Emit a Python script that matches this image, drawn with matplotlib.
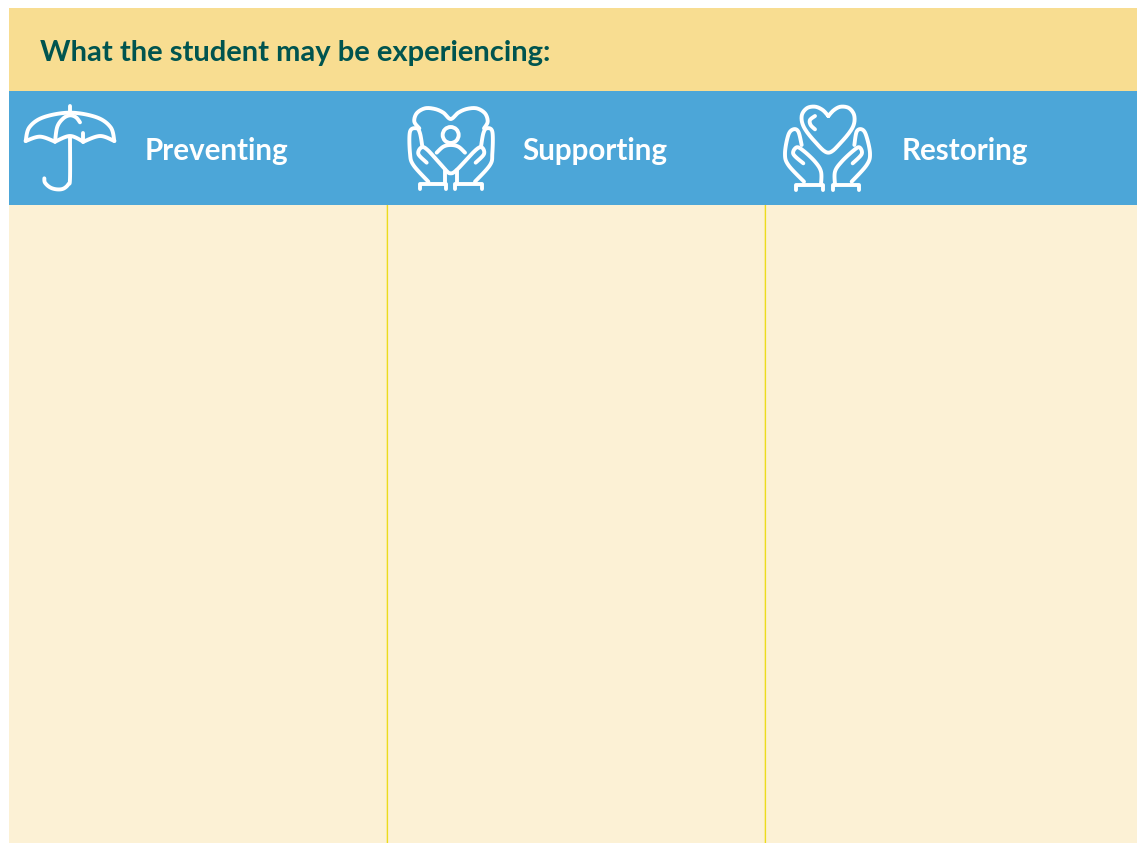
import matplotlib
matplotlib.use("Agg")
import matplotlib.pyplot as plt
from matplotlib.patches import Rectangle, Circle
from matplotlib.path import Path
from matplotlib.patches import PathPatch
import numpy as np

title = "What the student may be experiencing:"
columns = ["Preventing", "Supporting", "Restoring"]
column_label_x = [145, 523, 902]
divider_x = [387, 765]

YELLOW = "#f8dd91"
BLUE = "#4ca6d8"
CREAM = "#fcf1d5"
LINE = "#ecdc1e"
GREEN = "#00544f"

plt.rcParams["font.family"] = ["Lato", "Noto Sans", "DejaVu Sans"]


def smooth(points, n=14):
    # catmull-rom through the points so the icons don't look polygonal
    p = np.array(points, dtype=float)
    p = np.vstack([p[0], p, p[-1]])
    out = []
    for i in range(1, len(p) - 2):
        for t in np.linspace(0, 1, n, endpoint=False):
            out.append(0.5 * (2 * p[i] + (p[i + 1] - p[i - 1]) * t
                              + (2 * p[i - 1] - 5 * p[i] + 4 * p[i + 1] - p[i + 2]) * t ** 2
                              + (3 * p[i] - p[i - 1] - 3 * p[i + 1] + p[i + 2]) * t ** 3))
    out.append(p[-2])
    return np.array(out)


def draw_stroke(ax, points, ox, oy, curved=True):
    # points are in 3x crop units, ox/oy is the crop origin in pixels
    xy = smooth(points) if curved else np.array(points, dtype=float)
    xy = xy / 3 + [ox, oy]
    ax.add_patch(PathPatch(Path(xy), fill=False, ec="white", lw=2.8,
                           capstyle="round", joinstyle="round"))


umbrella = [
    ([(77, 153), (88, 112), (130, 82), (210, 68), (290, 82), (332, 112), (343, 153)], True),
    ([(77, 153), (120, 140), (165, 155)], True),
    ([(165, 155), (210, 138), (250, 155)], True),
    ([(250, 155), (300, 138), (343, 153)], True),
    ([(165, 155), (172, 110), (190, 85), (210, 76), (228, 82), (240, 97)], True),
    ([(250, 128), (250, 155)], False),
    ([(210, 48), (210, 68)], False),
    ([(210, 142), (210, 265), (205, 283), (190, 296), (170, 298), (150, 292), (135, 278), (133, 265)], True),
]

supporting = [
    ([(103, 115), (88, 95), (95, 70), (120, 55), (150, 57), (175, 68), (197, 87), (220, 68), (245, 57), (275, 55), (300, 70), (308, 95), (297, 115)], True),
    ([(155, 188), (175, 170), (197, 165), (220, 170), (240, 188)], True),
    ([(130, 275), (85, 225), (75, 190), (75, 125), (95, 115), (105, 130), (112, 170)], True),
    ([(125, 218), (100, 192), (110, 172), (130, 182), (180, 238), (197, 250), (217, 238), (270, 182), (290, 172), (297, 192), (272, 218)], True),
    ([(180, 240), (180, 282)], False),
    ([(217, 240), (217, 282)], False),
    ([(105, 297), (105, 282), (183, 282), (183, 297)], False),
    ([(210, 297), (210, 282), (290, 282), (290, 297)], False),
    ([(270, 275), (315, 225), (322, 190), (322, 125), (305, 115), (295, 130), (288, 170)], True),
]
supporting_head = (197, 135, 24)

restoring = [
    ([(205, 78), (188, 60), (165, 50), (140, 55), (125, 78), (132, 112), (165, 155), (205, 188), (245, 155), (278, 112), (283, 78), (268, 55), (243, 50), (222, 60), (205, 78)], True),
    ([(165, 118), (152, 105), (150, 90), (165, 78)], True),
    ([(132, 275), (85, 225), (75, 190), (85, 135), (100, 118), (115, 125), (125, 165)], True),
    ([(130, 220), (100, 192), (110, 172), (130, 182), (165, 215), (183, 245), (183, 285)], True),
    ([(108, 300), (108, 285), (188, 285), (188, 300)], False),
    ([(218, 300), (218, 285), (297, 285), (297, 300)], False),
    ([(278, 220), (305, 192), (298, 172), (280, 182), (245, 215), (225, 245), (225, 285)], True),
    ([(275, 275), (320, 225), (330, 190), (318, 135), (305, 118), (290, 125), (283, 165)], True),
]

fig = plt.figure(figsize=(11.37, 8.43), dpi=100)
ax = fig.add_axes([0, 0, 1, 1])
ax.set_xlim(0, 1137)
ax.set_ylim(843, 0)
ax.axis("off")

# background bands
ax.add_patch(Rectangle((9, 8), 1128, 83, fc=YELLOW, ec="none"))
ax.add_patch(Rectangle((9, 91), 1128, 114, fc=BLUE, ec="none"))
ax.add_patch(Rectangle((9, 205), 1128, 638, fc=CREAM, ec="none"))

# dividers, no snapping or they come out thin and grey
for x in divider_x:
    ax.add_patch(Rectangle((x - 0.3, 205), 1.4, 638, fc=LINE, ec="none", snap=False))

ax.text(39.5, 52.5, title, color=GREEN, fontsize=21, fontweight="bold", va="center", ha="left")

for name, x in zip(columns, column_label_x):
    ax.text(x - 0.5, 151, name, color="white", fontsize=21.3, fontweight="bold", va="center", ha="left")

# icons
for pts, curved in umbrella:
    draw_stroke(ax, pts, 0, 90, curved)
for pts, curved in supporting:
    draw_stroke(ax, pts, 385, 90, curved)
ax.add_patch(Circle((385 + supporting_head[0] / 3, 90 + supporting_head[1] / 3), supporting_head[2] / 3,
                    fill=False, ec="white", lw=2.8))
for pts, curved in restoring:
    draw_stroke(ax, pts, 760, 90, curved)

fig.savefig("out.png", dpi=100, facecolor="white")
